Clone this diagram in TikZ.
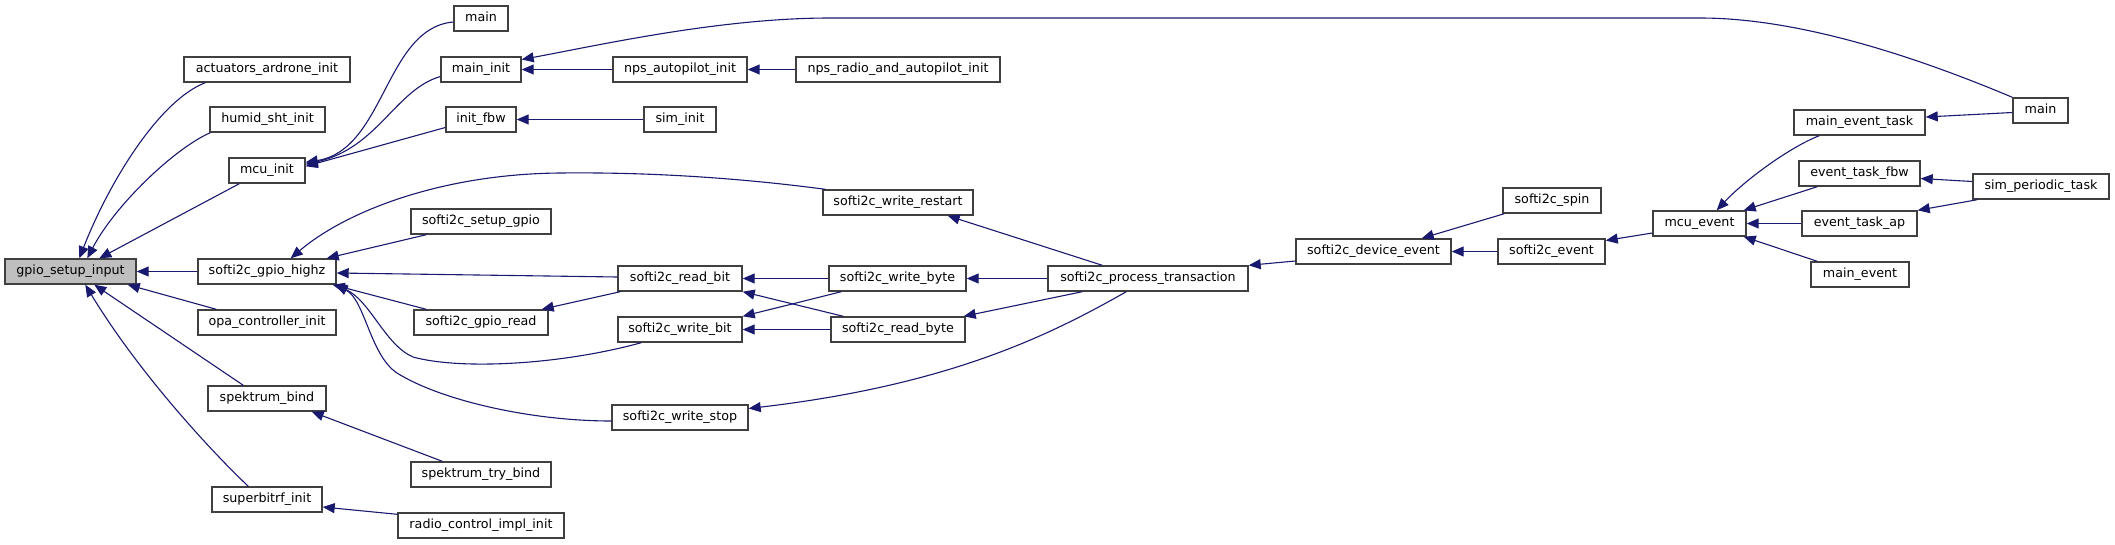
\documentclass[tikz,border=0pt]{standalone}
\usepackage{fontspec}
\setmainfont{DejaVu Sans}
\usetikzlibrary{arrows.meta}
\definecolor{edgecol}{RGB}{25,25,112}
\definecolor{boxcol}{RGB}{64,64,64}
\definecolor{gpiofill}{RGB}{191,191,191}
\tikzset{
  box/.style={draw=boxcol, line width=1.4pt, fill=white, inner sep=0pt, minimum height=25pt,
    font=\fontsize{12.7}{15}\selectfont, text height=9.5pt, text depth=3pt},
  edge/.style={draw=edgecol, line width=1.1pt, -{Triangle[length=12pt,width=10pt]}}
}
\begin{document}
\begin{tikzpicture}[x=1pt,y=-1pt]
\fill[white] (0,0) rectangle (2115,544);
\useasboundingbox (0,0) rectangle (2115,544);

\node[box,fill=gpiofill,minimum width=131pt] (gpio) at (70.5,271.5) {gpio\_setup\_input};
\node[box,minimum width=166pt] (act) at (267,69.5) {actuators\_ardrone\_init};
\node[box,minimum width=115pt] (humid) at (267.5,119.5) {humid\_sht\_init};
\node[box,minimum width=76pt] (mcuinit) at (267,170.5) {mcu\_init};
\node[box,minimum width=138pt] (highz) at (267,271.5) {softi2c\_gpio\_highz};
\node[box,minimum width=138pt] (opa) at (267,322.5) {opa\_controller\_init};
\node[box,minimum width=118pt] (spkbind) at (267,398.5) {spektrum\_bind};
\node[box,minimum width=110pt] (sbrf) at (267,499.5) {superbitrf\_init};
\node[box,minimum width=54pt] (mainA) at (481,18.5) {main};
\node[box,minimum width=80pt] (maininit) at (481,69.5) {main\_init};
\node[box,minimum width=70pt] (initfbw) at (481,119.5) {init\_fbw};
\node[box,minimum width=140pt] (setupgpio) at (481,221.5) {softi2c\_setup\_gpio};
\node[box,minimum width=134pt] (gpioread) at (481,322.5) {softi2c\_gpio\_read};
\node[box,minimum width=140pt] (spktry) at (481,474.5) {spektrum\_try\_bind};
\node[box,minimum width=166pt] (radio) at (481,525.5) {radio\_control\_impl\_init};
\node[box,minimum width=134pt] (npsap) at (680,69.5) {nps\_autopilot\_init};
\node[box,minimum width=72pt] (simi) at (680,119.5) {sim\_init};
\node[box,minimum width=124pt] (readbit) at (680,278.5) {softi2c\_read\_bit};
\node[box,minimum width=124pt] (writebit) at (680,329.5) {softi2c\_write\_bit};
\node[box,minimum width=136pt] (writestop) at (680,417.5) {softi2c\_write\_stop};
\node[box,minimum width=204pt] (npsradio) at (898,69.5) {nps\_radio\_and\_autopilot\_init};
\node[box,minimum width=150pt] (wrestart) at (898,202.5) {softi2c\_write\_restart};
\node[box,minimum width=137pt] (writebyte) at (897.5,278.5) {softi2c\_write\_byte};
\node[box,minimum width=134pt] (readbyte) at (898,329.5) {softi2c\_read\_byte};
\node[box,minimum width=200pt] (proc) at (1148,278.5) {softi2c\_process\_transaction};
\node[box,minimum width=155pt] (devev) at (1373.5,251.5) {softi2c\_device\_event};
\node[box,minimum width=98pt] (spin) at (1552,200.5) {softi2c\_spin};
\node[box,minimum width=107pt] (sev) at (1551.5,251.5) {softi2c\_event};
\node[box,minimum width=93pt] (mcuev) at (1699.5,223.5) {mcu\_event};
\node[box,minimum width=131pt] (mevtask) at (1859.5,122.5) {main\_event\_task};
\node[box,minimum width=121pt] (etfbw) at (1859.5,173.5) {event\_task\_fbw};
\node[box,minimum width=115pt] (etap) at (1859.5,223.5) {event\_task\_ap};
\node[box,minimum width=98pt] (mainev) at (1860,274.5) {main\_event};
\node[box,minimum width=55pt] (mainB) at (2040.5,110.5) {main};
\node[box,minimum width=136pt] (simper) at (2041,186.5) {sim\_periodic\_task};

% callers of gpio_setup_input
\draw[edge] ([xshift=22pt]act.south west) .. controls (160,100) and (110,180) .. ([xshift=75pt]gpio.north west);
\draw[edge] ([xshift=1pt]humid.south west) .. controls (175,148) and (115,205) .. ([xshift=83pt]gpio.north west);
\draw[edge] ([xshift=11pt]mcuinit.south west) -- ([xshift=95pt]gpio.north west);
\draw[edge] (highz.west) -- (gpio.east);
\draw[edge] ([xshift=19pt]opa.north west) -- ([xshift=-9pt]gpio.south east);
\draw[edge] ([xshift=36pt]spkbind.north west) -- ([xshift=90pt]gpio.south west);
\draw[edge] ([xshift=37pt]sbrf.north west) .. controls (215,455) and (140,375) .. ([xshift=81pt]gpio.south west);

% callers of mcu_init
\draw[edge] ([yshift=-3.5pt]mainA.west) .. controls (385,28) and (385,150) .. ([yshift=-5pt]mcuinit.north east);
\draw[edge] ([yshift=-7pt]maininit.west) .. controls (395,90) and (378,148) .. ([yshift=-7pt]mcuinit.north east);
\draw[edge] ([yshift=-8pt]initfbw.west) -- ([yshift=-9pt]mcuinit.north east);

% callers of main_init
\draw[edge] (mainB.north west) .. controls (1900,50) and (1790,18) .. (1700,18) -- (830,18)
  .. controls (720,18) and (600,45) .. ([yshift=10pt]maininit.east);
\draw[edge] (npsap.west) -- (maininit.east);
\draw[edge] (npsradio.west) -- (npsap.east);
\draw[edge] (simi.west) -- (initfbw.east);

% callers of softi2c_gpio_highz
\draw[edge] ([xshift=3pt]wrestart.north west) .. controls (740,178) and (650,172) .. (560,173)
  .. controls (440,174) and (345,212) .. ([xshift=-46pt]highz.north east);
\draw[edge] ([xshift=16pt]setupgpio.south west) -- ([xshift=-10pt]highz.north east);
\draw[edge] ([yshift=1.5pt]readbit.west) -- ([yshift=-1.5pt]highz.east);
\draw[edge] ([xshift=13pt]gpioread.north west) -- ([xshift=-4pt]highz.south east);
\draw[edge] ([xshift=24pt]writebit.south west) .. controls (560,365) and (460,370) .. (413,357)
  .. controls (385,345) and (370,300) .. ([xshift=-2pt]highz.south east);
\draw[edge] ([yshift=-3.5pt]writestop.west) .. controls (530,421) and (440,400) .. (397,373)
  .. controls (370,355) and (365,300) .. ([xshift=-1pt]highz.south east);

\draw[edge] ([xshift=3pt]readbit.south west) -- ([xshift=-7pt]gpioread.north east);
\draw[edge] ([xshift=32pt]spktry.north west) -- ([xshift=-15pt]spkbind.south east);
\draw[edge] ([yshift=-2pt]radio.north west) -- ([yshift=-7.5pt]sbrf.east);

% softi2c byte/bit layer
\draw[edge] (writebyte.west) -- (readbit.east);
\draw[edge] ([xshift=13pt]readbyte.north west) -- (readbit.south east);
\draw[edge] ([xshift=13pt]writebyte.south west) -- (writebit.north east);
\draw[edge] (readbyte.west) -- (writebit.east);

% process_transaction
\draw[edge] ([xshift=55pt]proc.north west) -- ([xshift=-26pt]wrestart.south east);
\draw[edge] (proc.west) -- (writebyte.east);
\draw[edge] ([xshift=35pt]proc.south west) -- ([xshift=-2pt]readbyte.north east);
\draw[edge] ([xshift=79pt]proc.south west) .. controls (1050,335) and (950,385) .. ([yshift=9pt]writestop.east);

\draw[edge] ([yshift=-9.5pt]devev.west) -- (proc.north east);
\draw[edge] ([xshift=2pt]spin.south west) -- ([xshift=-30pt]devev.north east);
\draw[edge] (sev.west) -- (devev.east);
\draw[edge] ([yshift=-9.5pt]mcuev.west) -- ([yshift=11pt]sev.east);

% callers of mcu_event
\draw[edge] ([xshift=26pt]mevtask.south west) .. controls (1790,147) and (1745,180) .. ([xshift=-30pt]mcuev.north east);
\draw[edge] ([xshift=19pt]etfbw.south west) -- ([xshift=-3pt]mcuev.north east);
\draw[edge] (etap.west) -- (mcuev.east);
\draw[edge] ([xshift=7pt]mainev.north west) -- ([xshift=-3pt]mcuev.south east);

\draw[edge] ([yshift=-2pt]mainB.west) -- ([yshift=5.5pt]mevtask.east);
\draw[edge] ([yshift=5pt]simper.west) -- ([yshift=-5pt]etfbw.east);
\draw[edge] ([xshift=5pt]simper.south west) -- (etap.north east);
\end{tikzpicture}
\end{document}
